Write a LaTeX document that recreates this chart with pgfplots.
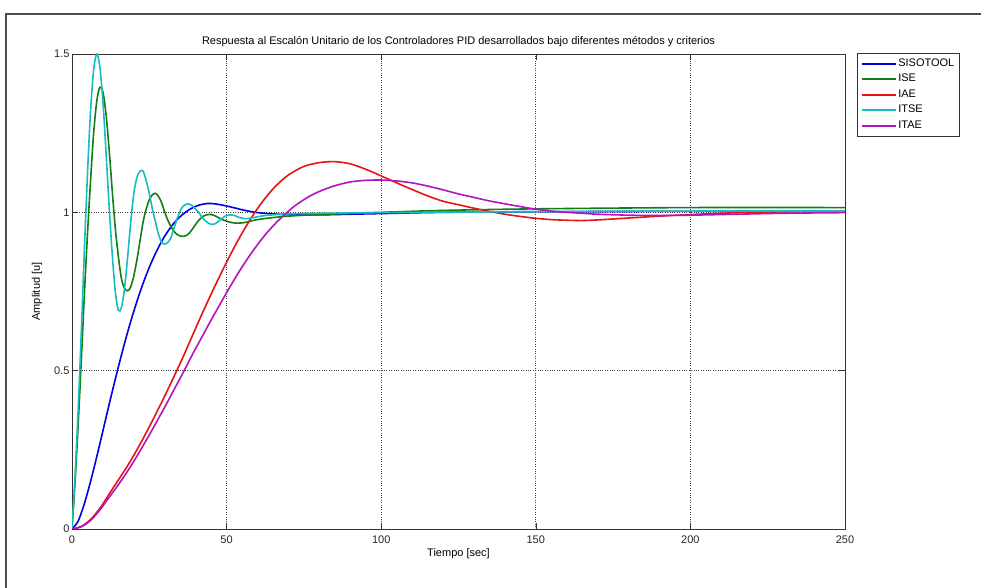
\documentclass[border=0pt]{standalone}
\usepackage{pgfplots}
\pgfplotsset{compat=1.18}
\usepackage{fontspec}
\setmainfont{Liberation Sans}
\definecolor{mblue}{RGB}{0,0,230}
\definecolor{mgreen}{RGB}{20,125,20}
\definecolor{mred}{RGB}{230,20,20}
\definecolor{mcyan}{RGB}{20,190,190}
\definecolor{mmag}{RGB}{180,20,190}
\begin{document}
\begin{tikzpicture}[x=1pt,y=1pt]
\useasboundingbox (0,0) rectangle (981,588);
\draw[line width=1.5pt, black!70] (6,0) -- (6,574) -- (981,574);
\begin{axis}[
  at={(72pt,59pt)}, anchor=south west,
  scale only axis, width=773pt, height=475pt,
  xmin=0, xmax=250, ymin=0, ymax=1.5,
  xtick={0,50,100,150,200,250},
  ytick={0,0.5,1,1.5},
  yticklabels={0,0.5,1,1.5},
  /pgf/number format/assume math mode=true,
  font=\fontsize{11}{13}\selectfont,
  tick label style={font=\fontsize{11}{13}\selectfont, black!85},
  xticklabel style={yshift=-3pt},
  yticklabel style={xshift=1pt},
  tick align=inside, major tick length=6pt,
  tick style={black!80, line width=0.6pt},
  axis line style={black!80, line width=0.8pt},
  grid=major,
  grid style={dotted, black!75, line width=0.7pt},
  title={Respuesta al Escalón Unitario de los Controladores PID desarrollados bajo diferentes métodos y criterios},
  title style={at={(axis description cs:0.5,1.0295)}, anchor=center, yshift=-8pt, font=\fontsize{11}{13}\selectfont},
  xlabel={Tiempo [sec]},
  xlabel style={at={(axis description cs:0.5,-0.0526)}, anchor=center},
  ylabel={Amplitud [u]},
  ylabel style={at={(axis description cs:-0.0453,0.5)}, anchor=center},
  legend cell align=left,
  legend image code/.code={\draw[#1, line width=2pt] (0pt,0.3pt) -- (34pt,0.3pt);},
  legend style={at={(1,1)}, xshift=12pt, yshift=1pt, anchor=north west,
    draw=black!80, line width=0.6pt, inner xsep=4pt, inner ysep=3pt, row sep=0pt,
    font=\fontsize{11}{13}\selectfont,
    nodes={inner sep=1pt, text height=9pt, text depth=4.5pt}},
  every axis plot/.append style={line width=1.6pt, smooth},
]
% SISOTOOL
\addplot[mblue] coordinates {
(0,0)(2,0.025)(4,0.08)(6,0.15)(8,0.228)(10,0.31)(12,0.393)(14,0.473)(16,0.55)(18,0.622)(20,0.688)(22,0.748)(24,0.802)(26,0.849)(28,0.89)(30,0.925)(32,0.954)(34,0.977)(36,0.995)(38,1.009)(40,1.019)(42,1.025)(44,1.028)(46,1.027)(48,1.024)(50,1.02)(53,1.013)(56,1.006)(60,0.999)(65,0.995)(70,0.993)(80,0.992)(90,0.994)(100,0.996)(120,1.0)(150,1.002)(200,1.003)(250,1.003)
};
\addlegendentry{SISOTOOL}
% ISE
\addplot[mgreen] coordinates {
(0,0)(1,0.15)(2,0.33)(3,0.53)(4,0.74)(5,0.93)(6,1.1)(7,1.25)(8,1.35)(9,1.395)(10,1.38)(11,1.31)(12,1.2)(13,1.07)(14,0.95)(15,0.86)(16,0.79)(17,0.76)(18,0.752)(19,0.765)(20,0.8)(21,0.85)(22,0.91)(23,0.97)(24,1.01)(25,1.04)(26,1.055)(27,1.06)(28,1.05)(29,1.03)(30,1.0)(31,0.975)(32,0.955)(33,0.94)(34,0.93)(35,0.925)(36,0.924)(37,0.927)(38,0.935)(39,0.948)(40,0.962)(41,0.975)(42,0.985)(43.5,0.992)(45,0.993)(46.5,0.988)(48,0.98)(50,0.972)(52,0.967)(54,0.966)(56,0.968)(58,0.973)(62,0.98)(70,0.988)(80,0.993)(100,1.0)(120,1.006)(150,1.011)(200,1.015)(250,1.015)
};
\addlegendentry{ISE}
% IAE
\addplot[mred] coordinates {
(0,0)(3,0.008)(6,0.03)(9,0.065)(12,0.11)(15,0.155)(18,0.2)(21,0.25)(24,0.304)(27,0.361)(30,0.42)(33,0.482)(36,0.545)(39,0.612)(42,0.678)(45,0.742)(48,0.803)(51,0.862)(54,0.917)(57,0.967)(60,1.012)(63,1.051)(66,1.084)(70,1.118)(75,1.145)(80,1.157)(85,1.16)(90,1.153)(95,1.136)(100,1.115)(105,1.093)(110,1.072)(115,1.052)(120,1.035)(125,1.024)(130,1.013)(135,1.003)(140,0.994)(145,0.987)(150,0.981)(155,0.977)(160,0.975)(165,0.974)(170,0.976)(175,0.979)(180,0.982)(190,0.988)(200,0.993)(210,0.997)(220,1.0)(235,1.002)(250,1.003)
};
\addlegendentry{IAE}
% ITSE
\addplot[mcyan] coordinates {
(0,0)(1,0.17)(2,0.38)(3,0.62)(4,0.88)(5,1.12)(6,1.32)(7,1.45)(8,1.50)(9,1.46)(10,1.35)(11,1.19)(12,1.02)(13,0.87)(14,0.75)(15,0.69)(16,0.70)(17,0.76)(18,0.86)(19,0.97)(20,1.06)(21,1.11)(22,1.13)(23,1.13)(24,1.10)(25,1.06)(26,1.01)(27,0.97)(28,0.93)(29,0.905)(30,0.90)(31,0.905)(32,0.92)(33,0.95)(34,0.98)(35,1.005)(36,1.02)(37.5,1.027)(39,1.02)(40,1.01)(41,1.0)(42,0.985)(43.5,0.97)(45,0.962)(46.5,0.965)(48,0.977)(49.5,0.988)(51,0.992)(52.5,0.99)(54,0.984)(56,0.98)(58,0.982)(61,0.988)(65,0.992)(70,0.995)(80,0.997)(100,0.999)(150,1.002)(200,1.004)(250,1.004)
};
\addlegendentry{ITSE}
% ITAE
\addplot[mmag] coordinates {
(0,0)(3,0.007)(6,0.027)(9,0.06)(12,0.1)(15,0.14)(18,0.183)(21,0.23)(24,0.28)(27,0.332)(30,0.385)(33,0.44)(36,0.495)(39,0.552)(42,0.606)(45,0.66)(48,0.712)(51,0.763)(54,0.812)(57,0.857)(60,0.898)(63,0.935)(66,0.967)(69,0.995)(72,1.02)(75,1.04)(78,1.057)(81,1.07)(85,1.084)(90,1.096)(95,1.101)(100,1.102)(105,1.099)(110,1.093)(115,1.083)(120,1.071)(125,1.058)(130,1.047)(135,1.036)(140,1.027)(145,1.018)(150,1.01)(155,1.004)(160,1.0)(165,0.997)(170,0.994)(180,0.991)(190,0.99)(200,0.991)(215,0.994)(230,0.997)(250,0.999)
};
\addlegendentry{ITAE}
\end{axis}
\end{tikzpicture}
\end{document}
